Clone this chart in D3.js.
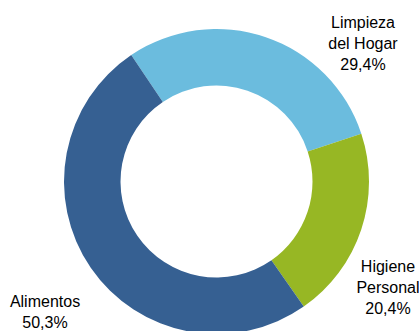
<!DOCTYPE html>
<html>
<head>
<meta charset="utf-8">
<script src="https://cdn.jsdelivr.net/npm/d3@7"></script>
<style>
  body { margin: 0; background: #fff; }
  text { font-family: "Liberation Sans", Arial, sans-serif; font-size: 16px; fill: #000; }
</style>
</head>
<body>
<div id="chart"></div>
<script>
// data (clockwise from the top-left boundary)
const categories = ['Limpieza del Hogar', 'Higiene Personal', 'Alimentos'];
const shares = [29.4, 20.4, 50.3];
const colors = ['#6BBCDE', '#97B724', '#366092'];
const labelLines = [['Limpieza', 'del Hogar', '29,4%'], ['Higiene', 'Personal', '20,4%'], ['Alimentos', '50,3%']];

const width = 419, height = 331;
const cx = 216.5, cy = 181.5;
const outerR = 152.5, innerR = 96;

const svg = d3.select('#chart').append('svg')
    .attr('width', width)
    .attr('height', height);

const pie = d3.pie()
    .sort(null)
    .value(d => d)
    .startAngle(-34 * Math.PI / 180)
    .endAngle(-34 * Math.PI / 180 + 2 * Math.PI);

const arc = d3.arc().innerRadius(innerR).outerRadius(outerR);

const g = svg.append('g').attr('transform', `translate(${cx},${cy})`);

g.selectAll('path')
    .data(pie(shares))
    .join('path')
    .attr('d', arc)
    .attr('fill', (d, i) => colors[i]);

// label anchors (centre x, first baseline)
const labelPos = [[363, 28], [388, 272], [45, 307]];
const lineStep = 21;

svg.selectAll('text.lbl')
    .data(labelLines)
    .join('text')
    .attr('class', 'lbl')
    .attr('text-anchor', 'middle')
    .each(function (lines, i) {
        const t = d3.select(this);
        lines.forEach((ln, j) => {
            t.append('tspan')
                .attr('x', labelPos[i][0])
                .attr('y', labelPos[i][1] + j * lineStep)
                .text(ln);
        });
    });
</script>
</body>
</html>
